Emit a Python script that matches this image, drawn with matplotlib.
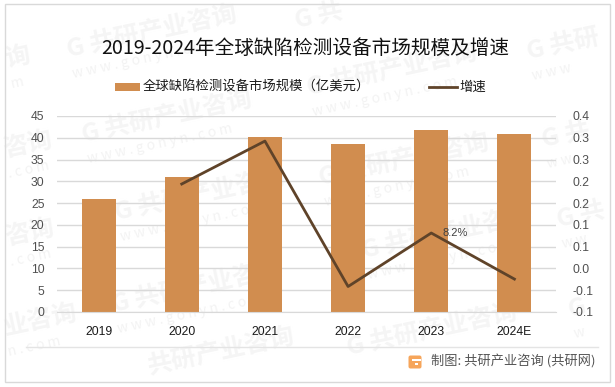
#!/usr/bin/env python3
import matplotlib

matplotlib.use("Agg")
import matplotlib.pyplot as plt
from matplotlib.patches import FancyBboxPatch, Rectangle

YEARS = ["2019", "2020", "2021", "2022", "2023", "2024E"]
MARKET_SIZE = [26.0, 31.0, 40.2, 38.6, 41.8, 40.9]
GROWTH = [None, 0.2265, 0.336, -0.035, 0.1015, -0.016]
LEFT_TICKS = [0, 5, 10, 15, 20, 25, 30, 35, 40, 45]
RIGHT_LABELS = ["-0.1", "-0.1", "0.0", "0.1", "0.1", "0.2", "0.2", "0.3", "0.3", "0.4"]
TITLE = "2019-2024年全球缺陷检测设备市场规模及增速"
BAR_LABEL = "全球缺陷检测设备市场规模（亿美元）"
LINE_LABEL = "增速"
SOURCE = "制图: 共研产业咨询 (共研网)"
WATERMARK = "G 共研产业咨询"
WATERMARK_URL = "w w w . g o n y n . c o m"
# whole watermarks, pixels from the top left
WATERMARK_SPOTS = [
    (70, 62), (310, 100), (85, 147), (322, 190), (118, 225), (365, 263), (115, 317), (350, 360),
]
# pieces of watermarks that run off the frame in the original
WATERMARK_PIECES = [
    (8, 72, "询", "m"), (6, 162, "咨询", ". c o m"), (8, 250, "咨询", ". c o m"), (6, 340, "业咨询", "n . c o m"),
    (298, 33, "G 共", ""), (530, 64, "G 共研", "w w w"), (545, 152, "G 共", "w w"),
    (560, 232, "G 共", "w w"), (571, 322, "G", "w"), (150, 379, "共研产业咨询", ""),
]

W, H = 615, 387
plt.rcParams["font.family"] = ["Noto Sans CJK SC", "DejaVu Sans"]

fig = plt.figure(figsize=(W / 100, H / 100), dpi=100, facecolor="white")

# page layer in pixel coordinates, for frame and watermarks
page = fig.add_axes([0, 0, 1, 1], zorder=0)
page.set_xlim(0, W)
page.set_ylim(H, 0)
page.axis("off")
page.add_patch(Rectangle((4.5, 4), 605, 377.5, fill=False, edgecolor="#d9d9d9", linewidth=1.0))


def watermark(x, y, name, url):
    page.text(x, y, name, fontsize=18, fontweight="bold", color="#f5f5f5", rotation=12,
              rotation_mode="anchor", ha="left", va="bottom", zorder=0.5)
    if url:
        page.text(x + 4, y + 19, url, fontsize=10, color="#f3f3f3", rotation=12,
                  rotation_mode="anchor", ha="left", va="bottom", zorder=0.5)


for x, y in WATERMARK_SPOTS:
    watermark(x, y, WATERMARK, WATERMARK_URL if y < 340 else "")
for x, y, name, url in WATERMARK_PIECES:
    watermark(x, y, name, url)
page.plot([26, 598], [346.7, 346.7], color="#e4e4e4", linewidth=1.0)

ax = fig.add_axes([57 / W, 1 - 312 / H, 499 / W, 196 / H], zorder=1)
ax.patch.set_alpha(0)
positions = list(range(len(YEARS)))
ax.bar(positions, MARKET_SIZE, width=0.41, color="#d18d4f", label=BAR_LABEL, zorder=2)
ax.set_xlim(-0.5, 5.5)
ax.set_ylim(0, 45)
ax.set_xticks(positions)
ax.set_xticklabels(YEARS, fontsize=8.7, color="#1a1a1a", family=["Liberation Sans"])
ax.set_yticks(LEFT_TICKS)
ax.tick_params(axis="x", length=0, pad=10)
ax.tick_params(axis="y", length=0, pad=9, labelsize=8.7, labelcolor="#505050", labelfontfamily="Liberation Sans")
ax.grid(axis="y", color="#d9d9d9", linewidth=1.0, zorder=0)
ax.set_axisbelow(True)
for side in ["top", "right", "left"]:
    ax.spines[side].set_visible(False)
ax.spines["bottom"].set_color("#d9d9d9")

ax2 = ax.twinx()
ax2.patch.set_alpha(0)
ax2.plot(positions[1:], GROWTH[1:], color="#5f4329", linewidth=2.0, label=LINE_LABEL, zorder=3)
ax2.set_ylim(-0.1, 0.4)
ax2.set_yticks([-0.1 + i * 0.5 / 9 for i in range(10)])
ax2.set_yticklabels(RIGHT_LABELS)
ax2.tick_params(axis="y", length=0, pad=12, labelsize=8.7, labelcolor="#505050", labelfontfamily="Liberation Sans")
for side in ax2.spines:
    ax2.spines[side].set_visible(False)
ax2.annotate("8.2%", (positions[4], GROWTH[4]), xytext=(8, 0), textcoords="offset points",
             fontsize=8, color="#404040", va="center", family=["Liberation Sans"])

page.text(305, 48, TITLE, fontsize=14.1, color="#111111", ha="center", va="center")
page.add_patch(Rectangle((115, 83), 25, 8, facecolor="#d18d4f", edgecolor="none"))
page.text(143, 87, BAR_LABEL, fontsize=9.6, color="#1a1a1a", va="center")
page.plot([429, 457], [87, 87], color="#5f4329", linewidth=2.0)
page.text(459, 87, LINE_LABEL, fontsize=9.6, color="#1a1a1a", va="center")
page.text(431, 362, SOURCE, fontsize=9.5, color="#555555", va="center")

# small logo next to the source line
page.add_patch(FancyBboxPatch((409, 356), 12, 12, boxstyle="round,pad=0.5,rounding_size=2",
                              facecolor="#f6a55a", edgecolor="none"))
page.add_patch(Rectangle((412, 359), 9, 2, facecolor="white", edgecolor="none"))
page.add_patch(Rectangle((415, 363), 3, 2, facecolor="white", edgecolor="none"))

fig.savefig("out.png", dpi=100)
